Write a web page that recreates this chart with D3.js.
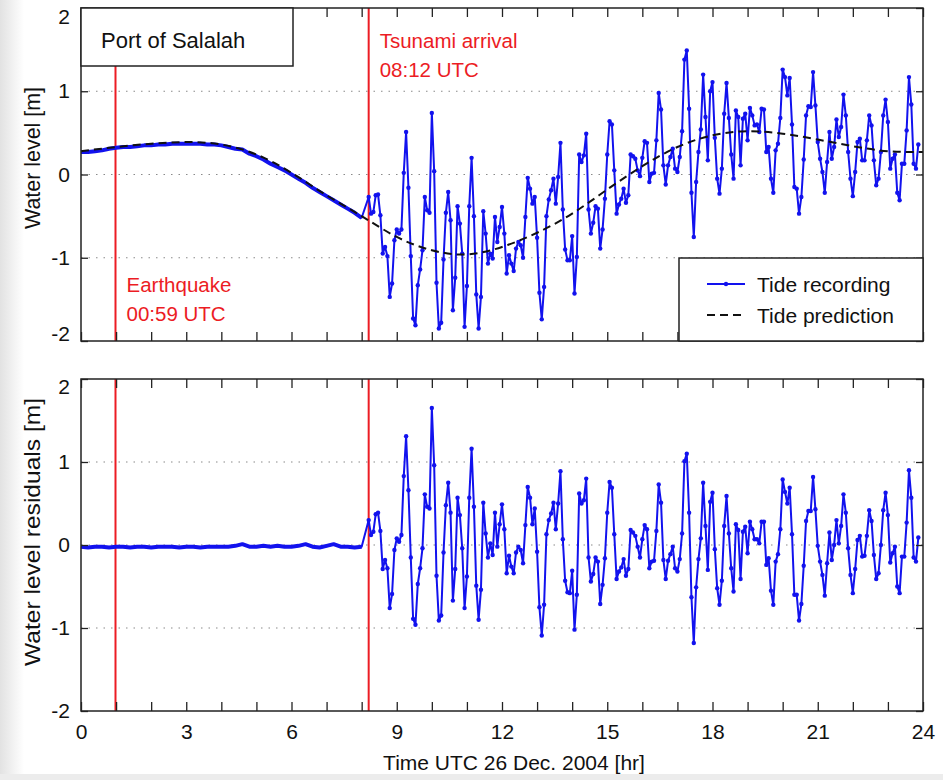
<!DOCTYPE html>
<html>
<head>
<meta charset="utf-8">
<script src="https://cdn.jsdelivr.net/npm/d3@7"></script>
<style>
  body { margin: 0; background: #fff; }
  svg text { font-family: "Liberation Sans", Arial, Helvetica, sans-serif; }
</style>
</head>
<body>
<svg id="chart" width="943" height="780"></svg>
<script>
// ---- data ----
const hourTicks = [0,1,2,3,4,5,6,7,8,9,10,11,12,13,14,15,16,17,18,19,20,21,22,23,24];
const hourLabels = [0,3,6,9,12,15,18,21,24];
const levelTicks = [-2,-1,0,1,2];
const gridLevels = [-1,0,1];

const earthquakeHr = 59/60;   // 00:59 UTC
const arrivalHr = 8.2;        // 08:12 UTC

// before the arrival the gauge trace is smooth, read every 0.2 hr
const preStart = 0, preStepHr = 0.2;
// after the arrival the gauge sampled every 4 minutes
const postStart = 8.2, postStepMin = 4;

const recordPre = [0.27,0.27,0.28,0.29,0.31,0.32,0.33,0.33,0.34,0.35,
  0.35,0.36,0.36,0.37,0.37,0.37,0.37,0.37,0.36,0.36,
  0.35,0.33,0.31,0.30,0.25,0.22,0.18,0.13,0.09,0.05,
  0.00,-0.05,-0.10,-0.16,-0.21,-0.26,-0.31,-0.36,-0.41,-0.46,
  -0.52];

const recordPost = [
  -0.27,-0.47,-0.45,-0.25,-0.24,-0.49,-0.95,-0.87,-0.98,-1.47,-1.31,-0.79,-0.66,-0.71,-0.66,0.02,0.51,-0.16,-0.98,-1.73,
  -1.81,-1.33,-1.14,-0.91,-0.27,-0.43,-0.46,0.74,0.04,-1.30,-1.85,-1.78,-1.02,-0.46,-0.21,-0.55,-1.63,-1.24,-0.38,-0.59,
  -0.95,-1.83,-1.34,-0.38,0.20,-0.50,-1.44,-1.85,-1.47,-0.44,-0.71,-1.07,-0.95,-1.01,-0.51,-0.81,-0.63,-0.39,-0.71,-1.19,
  -0.97,-1.07,-1.16,-0.89,-0.81,-0.85,-1.00,-0.51,-0.04,-0.17,-0.35,-0.27,-0.76,-1.42,-1.74,-1.35,-0.50,-0.30,-0.19,-0.05,
  -0.35,-0.03,0.38,-0.42,-0.90,-1.03,-1.03,-0.74,-1.43,-0.99,0.24,0.15,0.23,0.49,-0.42,-0.71,-0.58,-0.38,-0.41,-0.89,
  -0.66,-0.29,0.24,0.64,0.60,0.05,-0.47,-0.36,-0.29,-0.17,-0.34,-0.25,0.24,0.22,0.19,0.05,-0.02,0.20,0.40,
  0.38,-0.09,0.01,0.02,0.41,0.98,0.78,0.11,-0.12,0.11,0.21,0.31,0.07,0.03,0.21,0.52,1.38,1.49,0.79,-0.22,
  -0.75,-0.09,0.27,0.54,1.20,0.69,0.17,1.00,1.11,0.44,-0.05,-0.23,0.07,0.73,1.10,0.68,0.24,-0.05,0.77,0.69,
  0.11,0.67,0.73,0.41,0.80,0.71,0.59,0.60,0.51,0.79,0.78,0.27,0.33,-0.05,-0.22,0.29,0.37,0.68,1.26,1.17,
  0.95,1.16,0.60,-0.15,-0.17,-0.47,-0.27,0.18,0.71,0.82,0.81,1.23,0.83,0.39,0.19,0.03,-0.22,0.15,0.51,0.19,
  0.33,0.66,0.45,0.57,0.96,0.71,0.27,-0.05,-0.26,0.03,0.39,0.43,0.17,0.17,0.41,0.71,0.59,0.17,-0.13,-0.05,
  0.27,0.71,0.90,0.63,0.07,0.19,0.24,-0.22,-0.31,0.13,0.13,0.53,1.17,0.84,0.13,0.07,0.36];

const residPre = [-0.02,-0.03,-0.02,-0.02,-0.03,-0.02,-0.02,-0.03,-0.02,-0.02,
  -0.03,-0.02,-0.02,-0.02,-0.03,-0.02,-0.02,-0.03,-0.02,-0.02,
  -0.02,-0.02,-0.01,0.01,-0.02,-0.02,-0.01,-0.02,-0.01,-0.02,
  -0.02,-0.01,0.01,-0.02,-0.03,-0.01,0.01,-0.02,-0.02,-0.03,
  -0.02];

const residPost = [
  0.30,0.12,0.16,0.37,0.39,0.17,-0.29,-0.18,-0.28,-0.76,-0.59,-0.06,0.08,0.04,0.12,0.83,1.31,0.66,-0.15,-0.89,
  -0.96,-0.47,-0.28,-0.04,0.61,0.46,0.44,1.65,0.96,-0.37,-0.91,-0.85,-0.09,0.48,0.75,0.39,-0.67,-0.29,0.57,0.36,
  -0.04,-0.76,-0.38,0.57,1.16,0.46,-0.49,-0.90,-0.54,0.51,0.14,-0.15,0.02,-0.12,0.39,-0.02,0.25,0.49,0.19,-0.34,
  -0.13,-0.26,-0.34,-0.09,-0.02,-0.06,-0.22,0.24,0.70,0.57,0.25,0.44,-0.08,-0.75,-1.09,-0.72,0.13,0.30,0.38,0.51,
  0.19,0.50,0.89,0.07,-0.43,-0.57,-0.58,-0.31,-1.02,-0.60,0.62,0.50,0.54,0.80,-0.15,-0.44,-0.35,-0.15,-0.20,-0.71,
  -0.48,-0.16,0.39,0.76,0.69,0.13,-0.41,-0.32,-0.27,-0.17,-0.37,-0.29,0.18,0.15,0.11,-0.02,-0.15,0.07,0.24,
  0.19,-0.28,-0.20,-0.19,0.17,0.73,0.51,-0.18,-0.41,-0.19,-0.11,-0.02,-0.28,-0.32,-0.17,0.14,1.01,1.10,0.39,-0.63,
  -1.18,-0.51,-0.17,0.08,0.75,0.23,-0.30,0.52,0.63,-0.05,-0.52,-0.72,-0.43,0.23,0.59,0.14,-0.28,-0.56,0.25,0.18,
  -0.41,0.16,0.22,-0.10,0.28,0.19,0.07,0.07,0.02,0.28,0.28,-0.24,-0.16,-0.55,-0.72,-0.20,-0.11,0.19,0.79,0.64,
  0.50,0.69,0.13,-0.60,-0.60,-0.91,-0.71,-0.25,0.29,0.41,0.41,0.82,0.43,-0.01,-0.20,-0.36,-0.61,-0.22,0.15,-0.18,
  0.00,0.30,0.02,0.23,0.61,0.39,-0.04,-0.36,-0.58,-0.29,0.06,0.11,-0.14,-0.13,0.11,0.42,0.29,-0.12,-0.41,-0.34,
  0.00,0.42,0.63,0.36,-0.21,-0.10,-0.02,-0.50,-0.58,-0.14,-0.14,0.27,0.90,0.57,-0.15,-0.20,0.09];

// tide prediction, hourly
const predHours = [0,1,2,3,4,5,6,7,8,9,10,11,12,13,14,15,16,17,18,19,20,21,22,23,24];
const predLevel = [0.28,0.33,0.37,0.39,0.36,0.24,0.02,-0.25,-0.50,-0.75,-0.91,-0.96,-0.87,-0.70,-0.47,-0.18,0.10,0.33,0.47,0.52,0.49,0.42,0.34,0.28,0.27];

// ---- drawing ----
const W = 943, H = 780;
const X0 = 81, X1 = 923;
const BLUE = "#1212ee", RED = "#ec1c24", INK = "#222";

const svg = d3.select("#chart");
const defs = svg.append("defs");
const grad = defs.append("linearGradient").attr("id","edge");
grad.append("stop").attr("offset","0%").attr("stop-color","#e2e2e2");
grad.append("stop").attr("offset","100%").attr("stop-color","#ffffff");
svg.append("rect").attr("width",W).attr("height",H).attr("fill","#fff");
svg.append("rect").attr("width",24).attr("height",H).attr("fill","url(#edge)");
svg.append("rect").attr("y",774).attr("width",W).attr("height",6).attr("fill","#ececec");

const x = d3.scaleLinear().domain([0,24]).range([X0,X1]);

function series(pre, post) {
  const a = pre.map((v,i) => ({t: preStart + i*preStepHr, v}));
  const b = post.map((v,i) => ({t: postStart + i*postStepMin/60, v}));
  return {pre: a, post: b, all: a.concat(b)};
}

const panels = [
  {top: 8, bottom: 341, label: "Water level [m]", labelY: 158, labelLen: 142,
   data: series(recordPre, recordPost), pred: true, xLabels: false, nudge: {"2": 9, "-2": -7}},
  {top: 379, bottom: 711, label: "Water level residuals [m]", labelY: 532, labelLen: 268,
   data: series(residPre, residPost), pred: false, xLabels: true, nudge: {"2": 8, "-2": 0}}
];

panels.forEach(p => {
  const y = d3.scaleLinear().domain([-2,2]).range([p.bottom, p.top]);
  const g = svg.append("g");

  // dotted grid
  g.selectAll(".grid").data(gridLevels).enter().append("line")
    .attr("x1",X0).attr("x2",X1)
    .attr("y1",d => y(d)).attr("y2",d => y(d))
    .attr("stroke","#8a8a8a").attr("stroke-width",1.2)
    .attr("stroke-dasharray","1.5,6");

  // event markers
  g.selectAll(".evt").data([earthquakeHr, arrivalHr]).enter().append("line")
    .attr("x1",d => x(d)).attr("x2",d => x(d))
    .attr("y1",p.top).attr("y2",p.bottom)
    .attr("stroke",RED).attr("stroke-width",2);

  const line = d3.line().x(d => x(d.t)).y(d => y(d.v));
  g.append("path").datum(p.data.all).attr("d",line)
    .attr("fill","none").attr("stroke",BLUE).attr("stroke-width",2).attr("stroke-linejoin","round");
  g.append("path").datum(p.data.pre).attr("d",line)
    .attr("fill","none").attr("stroke",BLUE).attr("stroke-width",4).attr("stroke-linejoin","round");
  g.selectAll(".pt").data(p.data.post).enter().append("circle")
    .attr("cx",d => x(d.t)).attr("cy",d => y(d.v)).attr("r",2.2).attr("fill",BLUE);

  if (p.pred) {
    const pl = d3.line().curve(d3.curveNatural).x(d => x(d[0])).y(d => y(d[1]));
    g.append("path").datum(predHours.map((h,i) => [h, predLevel[i]])).attr("d",pl)
      .attr("fill","none").attr("stroke","#111").attr("stroke-width",2)
      .attr("stroke-dasharray","8,5");
  }

  // frame
  g.append("rect").attr("x",X0).attr("y",p.top).attr("width",X1-X0).attr("height",p.bottom-p.top)
    .attr("fill","none").attr("stroke",INK).attr("stroke-width",1.5);

  // axes with inward ticks
  const ax = (sel) => { sel.select(".domain").remove();
    sel.selectAll(".tick line").attr("stroke",INK).attr("stroke-width",1.3);
    sel.selectAll("text").attr("fill","#111").attr("font-size",21); };

  svg.append("g").attr("transform",`translate(0,${p.bottom})`)
    .call(d3.axisBottom(x).tickValues(hourTicks).tickSize(-9).tickPadding(13)
      .tickFormat(d => (p.xLabels && hourLabels.includes(d)) ? String(d) : ""))
    .call(ax);
  svg.append("g").attr("transform",`translate(0,${p.top})`)
    .call(d3.axisTop(x).tickValues(hourTicks).tickSize(-9).tickFormat(""))
    .call(ax);
  const yl = svg.append("g").attr("transform",`translate(${X0},0)`)
    .call(d3.axisLeft(y).tickValues(levelTicks).tickSize(-7).tickPadding(11).tickFormat(d => String(d)))
    .call(ax);
  // keep the end labels inside the figure, as in the original
  yl.selectAll(".tick text").attr("transform", d => `translate(0,${p.nudge[d] || 0})`);
  svg.append("g").attr("transform",`translate(${X1},0)`)
    .call(d3.axisRight(y).tickValues(levelTicks).tickSize(-7).tickFormat(""))
    .call(ax);

  svg.append("text")
    .attr("transform",`translate(40,${p.labelY}) rotate(-90)`)
    .attr("text-anchor","middle").attr("font-size",22).attr("fill","#111")
    .attr("textLength",p.labelLen).attr("lengthAdjust","spacingAndGlyphs")
    .text(p.label);
});

// x axis title
svg.append("text").attr("x",514).attr("y",770).attr("text-anchor","middle")
  .attr("font-size",21).attr("fill","#111").text("Time UTC 26 Dec. 2004 [hr]");

// station box
svg.append("rect").attr("x",X0).attr("y",8).attr("width",212).attr("height",58)
  .attr("fill","#fff").attr("stroke",INK).attr("stroke-width",1.5);
svg.append("text").attr("x",101).attr("y",48).attr("font-size",22).attr("fill","#111").text("Port of Salalah");

// event annotations
const notes = [
  {hr: arrivalHr, y: 48, lines: ["Tsunami arrival","08:12 UTC"]},
  {hr: earthquakeHr, y: 292, lines: ["Earthquake","00:59 UTC"]}
];
notes.forEach(n => {
  svg.append("text").attr("x",x(n.hr) + 11).attr("y",n.y).attr("font-size",20.5).attr("fill",RED)
    .selectAll("tspan").data(n.lines).enter().append("tspan")
    .attr("x",x(n.hr) + 11).attr("dy",(d,i) => i ? 29 : 0).text(d => d);
});

// legend
const lg = svg.append("g");
lg.append("rect").attr("x",679).attr("y",258).attr("width",X1-679).attr("height",83)
  .attr("fill","#fff").attr("stroke",INK).attr("stroke-width",1.5);
lg.append("line").attr("x1",707).attr("x2",745).attr("y1",284).attr("y2",284)
  .attr("stroke",BLUE).attr("stroke-width",2);
lg.append("circle").attr("cx",726).attr("cy",284).attr("r",2.2).attr("fill",BLUE);
lg.append("line").attr("x1",707).attr("x2",745).attr("y1",315).attr("y2",315)
  .attr("stroke","#111").attr("stroke-width",2).attr("stroke-dasharray","8,5");
lg.append("text").attr("x",757).attr("y",292).attr("font-size",21).attr("fill","#111").text("Tide recording");
lg.append("text").attr("x",757).attr("y",323).attr("font-size",21).attr("fill","#111").text("Tide prediction");
</script>
</body>
</html>
